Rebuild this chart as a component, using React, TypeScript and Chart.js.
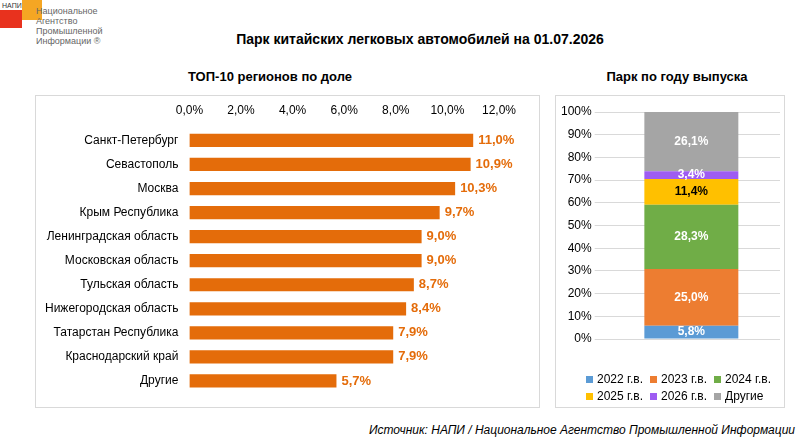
import React, { useEffect, useRef } from "react";
import { Chart, registerables } from "chart.js";
Chart.register(...registerables);

const regions = ["Санкт-Петербург","Севастополь","Москва","Крым Республика","Ленинградская область","Московская область","Тульская область","Нижегородская область","Татарстан Республика","Краснодарский край","Другие"];
const shares = [11.0,10.9,10.3,9.7,9.0,9.0,8.7,8.4,7.9,7.9,5.7];
const years = ["2022 г.в.","2023 г.в.","2024 г.в.","2025 г.в.","2026 г.в.","Другие"];
const yearShares = [5.8,25.0,28.3,11.4,3.4,26.1];
const yearColors = ["#5B9BD5","#ED7D31","#70AD47","#FFC000","#9E5CF2","#A5A5A5"];
const yearLabelColors = ["#fff","#fff","#fff","#000","#fff","#fff"];

const FONT = "'Liberation Sans', Arial, sans-serif";
const fmt = (v: number) => v.toFixed(1).replace(".", ",") + "%";

export default function App() {
  const leftRef = useRef<HTMLCanvasElement>(null);
  const rightRef = useRef<HTMLCanvasElement>(null);
  useEffect(() => {
    const left = new Chart(leftRef.current!, {
      type: "bar",
      data: { labels: regions, datasets: [{ data: shares, backgroundColor: "#E46C0A", barPercentage: 0.55, categoryPercentage: 1 }] },
      options: {
        animation: false, responsive: false, indexAxis: "y",
        layout: { padding: { left: 6, right: 40, top: 4, bottom: 14 } },
        plugins: { legend: { display: false }, tooltip: { enabled: false } },
        scales: {
          x: { position: "top", min: 0, max: 12, ticks: { stepSize: 2, callback: (v: any) => Number(v).toFixed(1).replace(".", ",") + "%", color: "#000", font: { family: FONT, size: 12 } }, grid: { display: false }, border: { display: false } },
          y: { ticks: { color: "#000", font: { family: FONT, size: 12 } }, grid: { display: false }, border: { display: false } },
        },
      },
      plugins: [{
        id: "lbl",
        afterDatasetsDraw(c: any) {
          const ctx = c.ctx; ctx.save();
          ctx.font = "bold 13px " + FONT; ctx.fillStyle = "#E46C0A"; ctx.textBaseline = "middle";
          c.getDatasetMeta(0).data.forEach((b: any, i: number) => ctx.fillText(fmt(shares[i]), b.x + 5, b.y));
          ctx.restore();
        },
      }],
    });
    const right = new Chart(rightRef.current!, {
      type: "bar",
      data: { labels: [""], datasets: years.map((y, i) => ({ label: y, data: [yearShares[i]], backgroundColor: yearColors[i], barPercentage: 0.53, categoryPercentage: 1 })) },
      options: {
        animation: false, responsive: false,
        layout: { padding: { left: 2, right: 4, top: 16, bottom: 60 } },
        plugins: { tooltip: { enabled: false }, legend: { display: false } },
        scales: {
          x: { stacked: true, grid: { display: false }, border: { display: false }, ticks: { display: false } },
          y: { stacked: true, min: 0, max: 100, ticks: { stepSize: 10, callback: (v: any) => v + "%", color: "#000", font: { family: FONT, size: 12 } }, grid: { color: "#D9D9D9" }, border: { display: false } },
        },
      },
      plugins: [{
        id: "lbl2",
        afterDatasetsDraw(c: any) {
          const ctx = c.ctx; ctx.save();
          ctx.font = "bold 12px " + FONT; ctx.textAlign = "center"; ctx.textBaseline = "middle";
          years.forEach((_, i) => {
            const b: any = c.getDatasetMeta(i).data[0];
            ctx.fillStyle = yearLabelColors[i];
            ctx.fillText(fmt(yearShares[i]), b.x, (b.y + b.base) / 2);
          });
          ctx.restore();
        },
      }],
    });
    return () => { left.destroy(); right.destroy(); };
  }, []);

  const abs = (x: number, y: number, w: number, h: number): React.CSSProperties => ({ position: "absolute", left: x, top: y, width: w, height: h });
  const legendItem = (i: number) => (
    <span key={i} style={{ display: "inline-flex", alignItems: "center", width: 64, whiteSpace: "nowrap" }}>
      <span style={{ width: 7, height: 7, background: yearColors[i], marginRight: 4, display: "inline-block" }} />
      {years[i]}
    </span>
  );
  return (
    <div style={{ position: "fixed", left: 0, top: 0, width: 809, height: 444, background: "#fff", fontFamily: FONT }}>
      <div style={{ ...abs(0, 10, 22, 18), background: "#E8321E" }} />
      <div style={{ ...abs(22, 0, 20, 20), background: "#F5A623" }} />
      <div style={{ position: "absolute", left: 2, top: 2, fontSize: 7, color: "#333" }}>НАПИ</div>
      <div style={{ position: "absolute", left: 36, top: 6, fontSize: 9, lineHeight: "10px", color: "#666" }}>Национальное<br />Агентство<br />Промышленной<br />Информации ®</div>
      <div style={{ position: "absolute", left: 0, width: 840, top: 31, textAlign: "center", fontWeight: "bold", fontSize: 14 }}>Парк китайских легковых автомобилей на 01.07.2026</div>
      <div style={{ position: "absolute", left: 170, width: 200, top: 69, textAlign: "center", fontWeight: "bold", fontSize: 13 }}>ТОП-10 регионов по доле</div>
      <div style={{ position: "absolute", left: 577, width: 200, top: 69, textAlign: "center", fontWeight: "bold", fontSize: 13 }}>Парк по году выпуска</div>
      <div style={{ ...abs(35, 95, 505, 313), border: "1px solid #D9D9D9", boxSizing: "border-box" }}>
        <canvas ref={leftRef} width={503} height={311} />
      </div>
      <div style={{ ...abs(555, 95, 230, 313), border: "1px solid #D9D9D9", boxSizing: "border-box" }}>
        <canvas ref={rightRef} width={228} height={311} />
      </div>
      <div style={{ position: "absolute", left: 586, top: 371, fontSize: 12, lineHeight: "17px" }}>
        <div>{[0, 1, 2].map(legendItem)}</div>
        <div>{[3, 4, 5].map(legendItem)}</div>
      </div>
      <div style={{ position: "absolute", right: 14, top: 423, fontStyle: "italic", fontSize: 12 }}>Источник: НАПИ / Национальное Агентство Промышленной Информации</div>
    </div>
  );
}
